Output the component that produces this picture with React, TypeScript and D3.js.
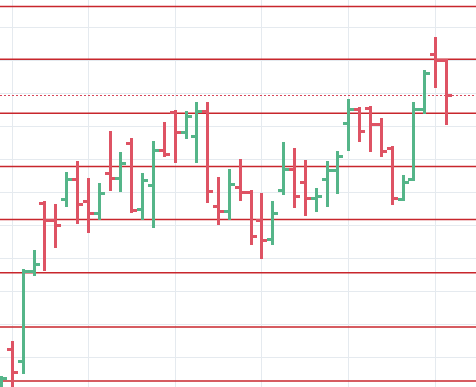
import { useEffect, useRef } from 'react';
import * as d3 from 'd3';

// OHLC values, one per bar
const opens = [
  -0.6, 12.4, 8.8, 36.1, 56.7, 51.5, 57.9, 63.9, 57.3, 53.6, 65.8, 64.2, 74.8, 54.8,
  62.1, 72.7, 84.2, 78.2, 77.0, 84.5, 55.8, 54.2, 61.5, 60.0, 51.5, 45.8, 60.6, 67.0,
  63.0, 58.2, 63.9, 66.7, 80.9, 85.2, 85.5, 80.6, 73.3, 57.9, 63.9, 85.2, 101.8, 100.0,
];
const highs = [
  3.9, 14.5, 36.4, 42.1, 57.0, 56.1, 65.8, 69.1, 63.9, 62.4, 78.2, 71.8, 76.1, 65.5,
  75.2, 80.9, 84.5, 84.2, 87.0, 87.0, 64.2, 66.7, 69.7, 60.3, 59.4, 57.0, 74.8, 73.0,
  69.4, 60.9, 69.1, 72.1, 87.9, 85.5, 85.8, 82.1, 73.6, 64.8, 87.0, 96.7, 106.7, 100.0,
];
const lows = [
  -3.0, -0.6, 5.2, 34.8, 36.4, 43.3, 55.8, 50.6, 47.9, 51.8, 60.6, 60.3, 53.9, 51.8,
  49.4, 70.9, 69.1, 76.4, 69.1, 57.0, 50.3, 51.8, 57.6, 44.2, 40.0, 44.2, 59.4, 55.5,
  53.0, 54.2, 55.8, 59.7, 72.7, 75.5, 72.4, 70.9, 56.4, 57.6, 63.6, 83.9, 91.8, 80.6,
];
const closes = [
  3.6, 5.5, 36.1, 38.2, 51.5, 50.0, 63.9, 56.4, 53.6, 59.7, 64.2, 68.8, 54.5, 63.6,
  72.7, 71.5, 78.2, 83.0, 84.5, 60.3, 54.2, 62.4, 60.0, 46.7, 45.5, 53.6, 67.0, 58.8,
  58.2, 58.8, 66.7, 70.9, 85.2, 78.5, 80.6, 72.4, 58.2, 63.0, 85.2, 96.1, 100.0, 89.4,
];

// horizontal price levels drawn in red
const levels = [116.2, 100.2, 83.9, 67.7, 51.7, 35.5, 19.1, 2.7];
// price grid and time grid (bar index of each vertical line)
const priceTicks = [0, 10, 20, 30, 40, 50, 60, 70, 80, 90, 100, 110];
const timeGrid = [1, 8, 16, 24, 32, 40];

const width = 476;
const height = 387;
const upColor = '#55b589';
const downColor = '#de5364';
const levelColor = '#c8262c';
const gridColor = '#e5eaef';

const App = () => {
  const svgRef = useRef<SVGSVGElement>(null);

  useEffect(() => {
    if (!svgRef.current) return;
    const svg = d3.select(svgRef.current);
    svg.selectAll('*').remove();

    const x = d3.scaleLinear().domain([0, opens.length - 1]).range([1, 446]);
    const y = d3.scaleLinear().domain([10, 110]).range([357, 27]);

    // grid
    svg.append('g')
      .selectAll('line')
      .data(priceTicks)
      .join('line')
      .attr('x1', 0)
      .attr('x2', width)
      .attr('y1', d => Math.round(y(d)) + 0.5)
      .attr('y2', d => Math.round(y(d)) + 0.5)
      .attr('stroke', gridColor)
      .attr('stroke-width', 1);

    svg.append('g')
      .selectAll('line')
      .data(timeGrid)
      .join('line')
      .attr('x1', d => Math.round(x(d)) + 0.5)
      .attr('x2', d => Math.round(x(d)) + 0.5)
      .attr('y1', 0)
      .attr('y2', height)
      .attr('stroke', gridColor)
      .attr('stroke-width', 1);

    // red levels
    svg.append('g')
      .selectAll('line')
      .data(levels)
      .join('line')
      .attr('x1', 0)
      .attr('x2', width)
      .attr('y1', d => y(d))
      .attr('y2', d => y(d))
      .attr('stroke', levelColor)
      .attr('stroke-width', 1.5);

    // last value line (dotted)
    const last = closes[closes.length - 1];
    svg.append('line')
      .attr('x1', 0)
      .attr('x2', width)
      .attr('y1', Math.round(y(last)) + 0.5)
      .attr('y2', Math.round(y(last)) + 0.5)
      .attr('stroke', '#d8475b')
      .attr('stroke-width', 1)
      .attr('stroke-dasharray', '2,2')
      .attr('shape-rendering', 'crispEdges');

    // bars
    const bars = svg.append('g');
    opens.forEach((o, i) => {
      const c = closes[i];
      const color = c >= o ? upColor : downColor;
      const cx = Math.round(x(i));
      const top = Math.round(y(highs[i]));
      const bottom = Math.round(y(lows[i]));
      const g = bars.append('g').attr('fill', color);
      g.append('rect')
        .attr('x', cx - 1)
        .attr('y', top - 1)
        .attr('width', 3)
        .attr('height', Math.max(3, bottom - top + 2));
      g.append('rect')
        .attr('x', cx - 5)
        .attr('y', Math.round(y(o)) - 1)
        .attr('width', 4)
        .attr('height', 3);
      g.append('rect')
        .attr('x', cx + 2)
        .attr('y', Math.round(y(c)) - 1)
        .attr('width', 4)
        .attr('height', 3);
    });
  }, []);

  return (
    <div style={{ position: 'absolute', left: 0, top: 0, width, height, background: '#fff' }}>
      <svg ref={svgRef} width={width} height={height} style={{ display: 'block' }} />
    </div>
  );
};

export default App;
